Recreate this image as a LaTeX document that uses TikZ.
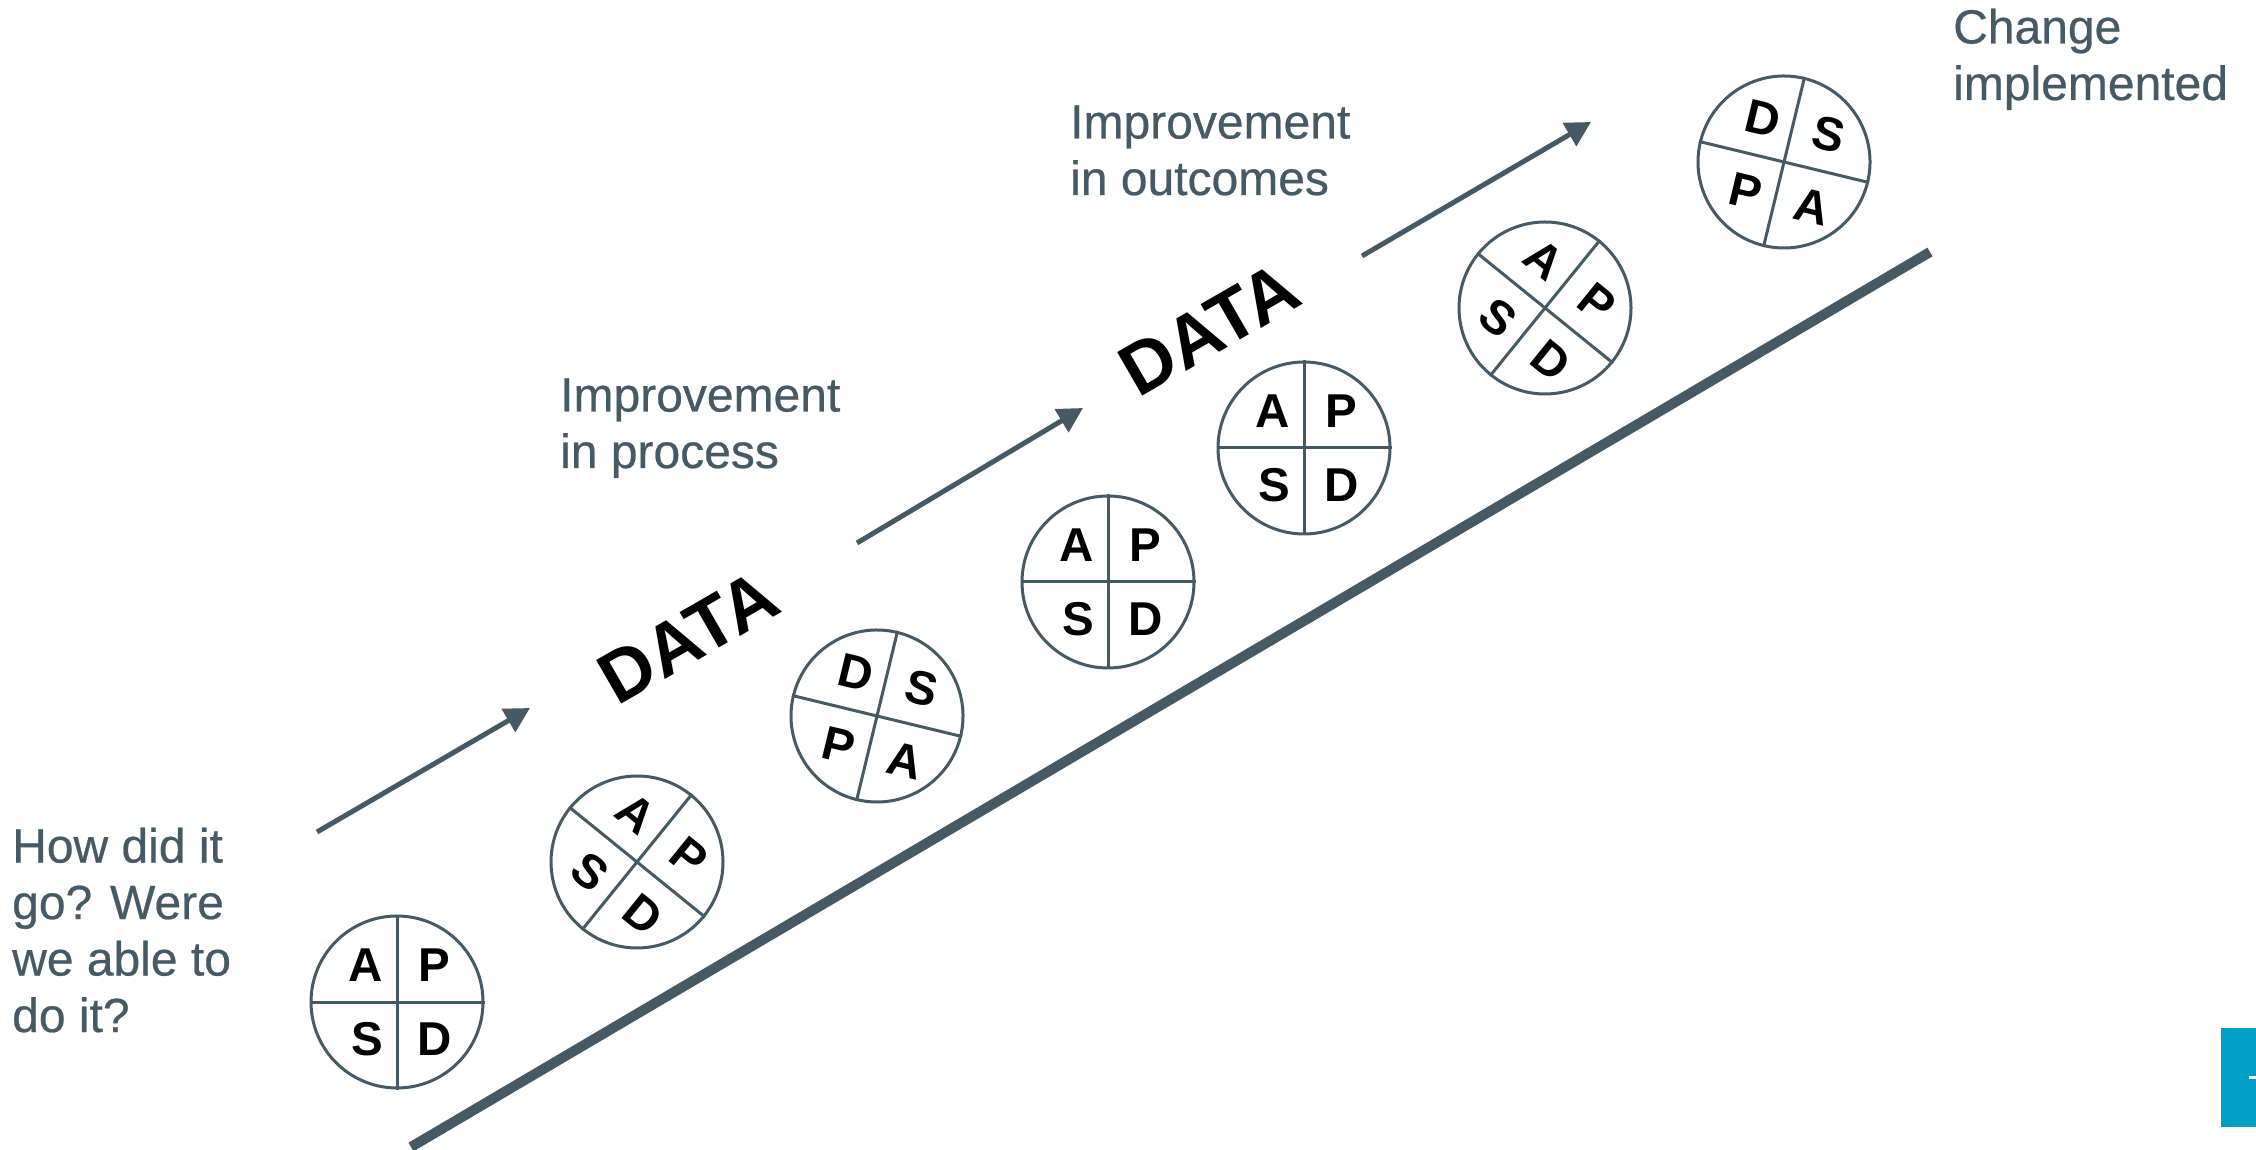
\documentclass[tikz,border=0pt]{standalone}
\usepackage{fontspec}
\setmainfont{Liberation Sans}
\newfontfamily\capfont{Liberation Sans}[FakeBold=0.5]
\usetikzlibrary{arrows.meta}
\definecolor{slate}{HTML}{455A64}
\definecolor{tealblue}{RGB}{0,160,198}
\tikzset{
  pdsacircle/.style={circle, draw=slate, line width=3pt, minimum size=172pt, inner sep=0pt},
  pdsaline/.style={draw=slate, line width=3pt},
  pdsaletter/.style={inner sep=0pt, font=\fontsize{47.5}{50}\selectfont\bfseries},
  datalabel/.style={inner sep=0pt, rotate=30, font=\fontsize{73}{80}\selectfont\bfseries},
  caption/.style={inner sep=0pt, align=left, anchor=base west, text=slate, font=\capfont\fontsize{48}{56.5}\selectfont},
  progress/.style={draw=slate, line width=5pt, -{Triangle[length=25pt,width=26pt]}},
  ramp/.style={draw=slate, line width=10pt},
}
\newcommand\pdsa[8]{%
  \begin{scope}[shift={(#2,#3)}, rotate=#4, transform shape]
    \node[pdsacircle] (#1) at (0,0) {};
    \draw[pdsaline] (#1.north) -- (#1.south);
    \draw[pdsaline] (#1.west) -- (#1.east);
    \node[pdsaletter] (#1-tl) at (-31,37) {#5};
    \node[pdsaletter] (#1-tr) at (37,37) {#6};
    \node[pdsaletter] (#1-bl) at (-30,-37) {#7};
    \node[pdsaletter] (#1-br) at (38,-37) {#8};
  \end{scope}}
\begin{document}
\begin{tikzpicture}[x=1pt, y=1pt]
\useasboundingbox (0,0) rectangle (2256,1149);
% main ramp
\coordinate (rampstart) at (411,2);
\coordinate (rampend) at (1930,897);
\draw[ramp] (rampstart) -- (rampend);
% cycles
\pdsa{c1}{397}{147}{0}{A}{P}{S}{D}
\pdsa{c2}{637}{287}{-39}{A}{P}{S}{D}
\pdsa{c3}{877}{433}{-13.6}{D}{S}{P}{A}
\pdsa{c4}{1108}{567}{0}{A}{P}{S}{D}
\pdsa{c5}{1304}{701}{0}{A}{P}{S}{D}
\pdsa{c6}{1545}{841}{-39}{A}{P}{S}{D}
\pdsa{c7}{1784}{987}{-13.6}{D}{S}{P}{A}
% DATA labels
\node[datalabel] (data1) at (688,512) {DATA};
\node[datalabel] (data2) at (1209,820) {DATA};
% arrows
\coordinate (a1s) at (317,317); \coordinate (a1e) at (530,441);
\coordinate (a2s) at (857,606); \coordinate (a2e) at (1083,741);
\coordinate (a3s) at (1362,893); \coordinate (a3e) at (1591,1027);
\draw[progress] (a1s) -- (a1e);
\draw[progress] (a2s) -- (a2e);
\draw[progress] (a3s) -- (a3e);
% captions (anchored at the baseline of their last line)
\node[caption] (howdid) at (12,117) {How did it\\go? Were\\we able to\\do it?};
\node[caption] (process) at (560,681) {Improvement\\in process};
\node[caption] (outcomes) at (1070,954) {Improvement\\in outcomes};
\node[caption] (change) at (1953,1049) {Change\\implemented};
% corner tab
\fill[tealblue] (2221,22) rectangle (2256,121);
\draw[white, line width=3pt] (2249,72) -- (2256,72);
\end{tikzpicture}
\end{document}
